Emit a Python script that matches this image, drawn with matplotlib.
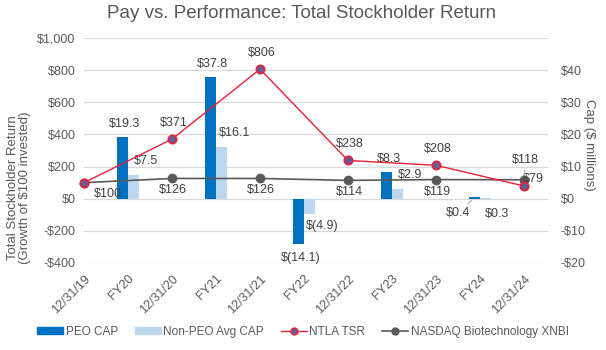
import matplotlib
matplotlib.use("Agg")
import matplotlib.pyplot as plt
from matplotlib.patches import Patch
from matplotlib.lines import Line2D
from matplotlib.ticker import FixedLocator, FuncFormatter

plt.rcParams["font.family"] = ["Liberation Sans", "DejaVu Sans"]

# --- data -------------------------------------------------------------
categories = ["12/31/19", "FY20", "12/31/20", "FY21", "12/31/21", "FY22",
              "12/31/22", "FY23", "12/31/23", "FY24", "12/31/24"]

tsr_dates = ["12/31/19", "12/31/20", "12/31/21", "12/31/22", "12/31/23", "12/31/24"]
ntla_tsr = [100, 371, 806, 238, 208, 79]
xnbi_tsr = [100, 126, 126, 114, 119, 118]

fiscal_years = ["FY20", "FY21", "FY22", "FY23", "FY24"]
peo_cap = [19.3, 37.8, -14.1, 8.3, 0.4]
non_peo_cap = [7.5, 16.1, -4.9, 2.9, 0.3]

# --- styles -----------------------------------------------------------
GREY = "#595959"
LABEL = "#404040"
GRID = "#D9D9D9"
PEO_BLUE = "#0070C0"
NONPEO_BLUE = "#BDD7EE"
NTLA_RED = "#E8213A"
NTLA_FACE = "#6A5B96"
XNBI_GREY = "#595959"
FS = 9


def money(v):
    return f"${v:,.0f}" if v >= 0 else f"-${-v:,.0f}"


def cap_text(v):
    return f"${v:.1f}" if v >= 0 else f"$({-v:.1f})"


fig = plt.figure(figsize=(6.06, 3.5), dpi=100)
ax = fig.add_axes([84 / 606, 1 - 263 / 350, (548 - 84) / 606, (263 - 38) / 350])
ax_cap = ax.twinx()
ax.set_zorder(ax_cap.get_zorder() + 1)
ax.patch.set_visible(False)

x_tsr = [categories.index(d) for d in tsr_dates]
x_fy = [categories.index(f) for f in fiscal_years]
bw = 0.245

# bars (right axis)
ax_cap.bar([x - bw for x in x_fy], peo_cap, width=bw, align="edge", color=PEO_BLUE)
ax_cap.bar(x_fy, non_peo_cap, width=bw, align="edge", color=NONPEO_BLUE)

# lines (left axis)
ax.plot(x_tsr, xnbi_tsr, color=XNBI_GREY, lw=1.2, marker="o", ms=6,
        mfc=XNBI_GREY, mec=XNBI_GREY, clip_on=False, zorder=3)
ax.plot(x_tsr, ntla_tsr, color=NTLA_RED, lw=1.0, marker="o", ms=6,
        mfc=NTLA_FACE, mec=NTLA_RED, mew=1.2, clip_on=False, zorder=4)

ax.set_xlim(0, 10.545)
ax.set_ylim(-400, 1000)
ax_cap.set_ylim(-20, 50)

ax.set_xticks(range(len(categories)))
ax.set_xticklabels(categories, rotation=45, ha="right", va="top",
                   rotation_mode="anchor")
ax.yaxis.set_major_locator(FixedLocator(range(-400, 1001, 200)))
ax.yaxis.set_major_formatter(FuncFormatter(lambda v, p: money(v)))
ax_cap.yaxis.set_major_locator(FixedLocator(range(-20, 51, 10)))
ax_cap.yaxis.set_major_formatter(
    FuncFormatter(lambda v, p: "" if v > 40 else money(v)))

ax_cap.grid(axis="y", color=GRID, lw=0.9)
ax_cap.set_axisbelow(True)
for a in (ax, ax_cap):
    for s in a.spines.values():
        s.set_visible(False)
    a.tick_params(length=0, labelsize=FS, labelcolor=GREY)
ax.tick_params(axis="y", pad=6)
ax.tick_params(axis="x", pad=7)
ax_cap.tick_params(axis="y", pad=9)

# --- data labels --------------------------------------------------------
def put(a, x, y, text, dx, dy, leader=False):
    kw = {}
    if leader:
        kw["arrowprops"] = dict(arrowstyle="-", color="#A6A6A6", lw=0.7,
                                shrinkA=1, shrinkB=3)
    a.annotate(text, (x, y), xytext=(dx, dy), textcoords="offset pixels",
               ha="center", va="center", fontsize=FS, color=LABEL,
               annotation_clip=False, **kw)


for i, (x, v) in enumerate(zip(x_tsr, ntla_tsr)):
    if i == 0:
        continue  # hidden behind the XNBI label in the source
    if i == len(x_tsr) - 1:
        put(ax, x, v, money(v), 9, 7)
    else:
        put(ax, x, v, money(v), 2, 16)

for i, (x, v) in enumerate(zip(x_tsr, xnbi_tsr)):
    if i == 0:
        put(ax, x, v, money(v), 24, -11)
    elif i == len(x_tsr) - 1:
        put(ax, x, v, money(v), 1, 20, leader=True)
    else:
        put(ax, x, v, money(v), 1, -12)

for x, v in zip(x_fy, peo_cap):
    xc = x - bw / 2
    if abs(v) < 1:
        put(ax_cap, xc, v, cap_text(v), -17, -16, leader=True)
    else:
        put(ax_cap, xc, v, cap_text(v), 2, 13 if v > 0 else -14)

for x, v in zip(x_fy, non_peo_cap):
    xc = x + bw / 2
    if abs(v) < 1:
        put(ax_cap, xc, v, cap_text(v), 12, -16)
    else:
        put(ax_cap, xc, v, cap_text(v), 13, 14 if v > 0 else -12)

# --- titles ------------------------------------------------------------
fig.text(302 / 606, 1 - 14 / 350, "Pay vs. Performance: Total Stockholder Return",
         ha="center", va="center", fontsize=13.5, color=GREY)
fig.text(19 / 606, 1 - 188 / 350,
         "Total Stockholder Return\n(Growth of $100 invested)",
         rotation=90, ha="center", va="center", multialignment="center",
         fontsize=FS + 0.5, color=GREY, linespacing=1.1)
fig.text(589 / 606, 1 - 145 / 350, "Cap ($ millions)", rotation=270,
         ha="center", va="center", fontsize=FS + 0.5, color=GREY)

handles = [
    Patch(color=PEO_BLUE, label="PEO CAP"),
    Patch(color=NONPEO_BLUE, label="Non-PEO Avg CAP"),
    Line2D([], [], color=NTLA_RED, lw=1.0, marker="o", ms=5,
           mfc=NTLA_FACE, mec=NTLA_RED, label="NTLA TSR"),
    Line2D([], [], color=XNBI_GREY, lw=1.2, marker="o", ms=5,
           mfc=XNBI_GREY, mec=XNBI_GREY, label="NASDAQ Biotechnology XNBI"),
]
leg = fig.legend(handles=handles, loc="center", bbox_to_anchor=(303 / 606, 1 - 332 / 350),
                 ncol=4, frameon=False, fontsize=8.5, handlelength=2.2,
                 handleheight=0.5, handletextpad=0.2, columnspacing=1.45)
for t in leg.get_texts():
    t.set_color(GREY)

fig.savefig("out.png", dpi=100)
